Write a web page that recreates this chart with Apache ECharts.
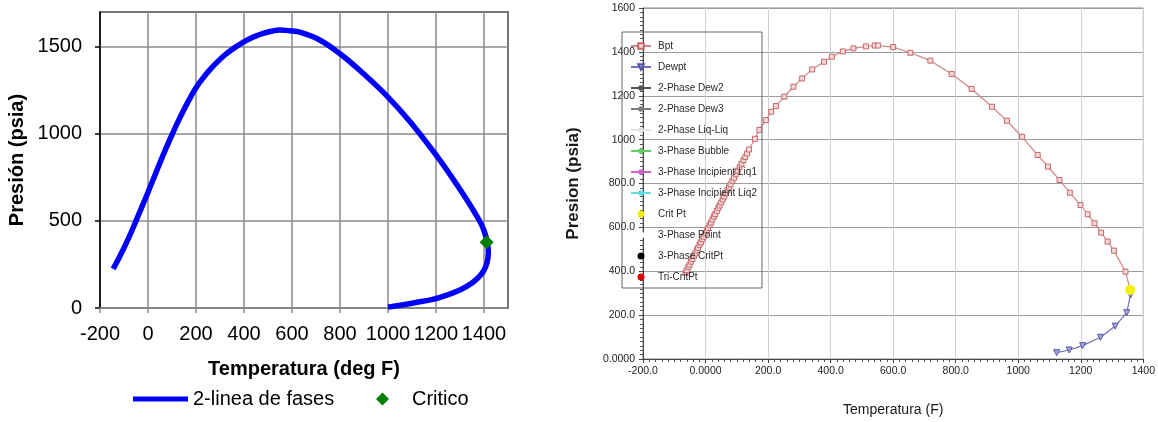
<!DOCTYPE html>
<html>
<head>
<meta charset="utf-8">
<script src="https://cdn.jsdelivr.net/npm/echarts@6/dist/echarts.min.js"></script>
<style>
  html, body { margin: 0; padding: 0; background: #ffffff; }
  #chart { width: 1158px; height: 422px; }
</style>
</head>
<body>
<div id="chart"></div>
<script>
// ---- Left panel: phase envelope as one continuous line ----
const envT = [-145, -120, -95, -70, -50, -25, 0, 25, 50, 75, 100, 125, 150, 175, 200, 230, 260, 290, 320, 350, 380, 410, 440, 480, 520, 550, 590, 633, 717, 800, 897, 994, 1092, 1200, 1286, 1356, 1400, 1418, 1397, 1328, 1217, 1106, 1000];
const envP = [225, 290, 360, 435, 500, 582, 665, 750, 835, 917, 995, 1070, 1140, 1205, 1265, 1322, 1372, 1415, 1453, 1485, 1512, 1537, 1557, 1577, 1591, 1596, 1592, 1584, 1538, 1460, 1347, 1220, 1070, 879, 710, 560, 445, 320, 210, 124, 61, 29, 5];
const critLeft = [1411, 378];

// ---- Right panel: simulator output ----
const bptT = [-64, -60, -55, -51, -46, -42, -37, -33, -28, -24, -19, -15, -10, -6, -1, 4, 8, 13, 17, 22, 27, 31, 36, 41, 45, 50, 55, 60, 65, 70, 75, 80, 86, 91, 97, 103, 109, 115, 121, 127, 133, 139, 158, 172, 193, 210, 225, 252, 281, 309, 341, 379, 404, 439, 473, 513, 541, 552, 600, 655, 719, 787, 851, 916, 964, 1012, 1062, 1095, 1132, 1165, 1199, 1222, 1244, 1265, 1286, 1306, 1343, 1358];
const bptP = [393, 404, 419, 430, 444, 456, 470, 481, 496, 507, 521, 532, 546, 558, 572, 586, 597, 611, 622, 636, 650, 661, 675, 689, 700, 714, 727, 741, 755, 769, 782, 796, 812, 826, 842, 858, 874, 890, 906, 921, 937, 955, 1004, 1044, 1089, 1127, 1153, 1196, 1241, 1279, 1320, 1355, 1378, 1402, 1416, 1425, 1429, 1429, 1422, 1396, 1360, 1299, 1231, 1150, 1086, 1013, 930, 877, 816, 758, 702, 660, 619, 576, 535, 494, 398, 315];
const dewT = [1359, 1347, 1310, 1263, 1206, 1163, 1123];
const dewP = [292, 211, 150, 99, 61, 41, 29];
const critRight = [1358, 315];

const rightXLabels = ['-200.0', '0.0000', '200.0', '400.0', '600.0', '800.0', '1000', '1200', '1400'];
const rightYLabels = ['0.0000', '200.0', '400.0', '600.0', '800.0', '1000', '1200', '1400', '1600'];

const emptyLines = [
  ['2-Phase Dew2', '#555555'],
  ['2-Phase Dew3', '#7a7a7a'],
  ['2-Phase Liq-Liq', '#e4e4e4'],
  ['3-Phase Bubble', '#66cc66'],
  ['3-Phase Incipient Liq1', '#cc66cc'],
  ['3-Phase Incipient Liq2', '#66dddd']
];
const rightNames = ['Bpt', 'Dewpt', '2-Phase Dew2', '2-Phase Dew3', '2-Phase Liq-Liq', '3-Phase Bubble',
  '3-Phase Incipient Liq1', '3-Phase Incipient Liq2', 'Crit Pt', '3-Phase Point', '3-Phase CritPt', 'Tri-CritPt'];

const SANS = "'Liberation Sans', Arial, sans-serif";

const pairs = (xs, ys) => xs.map((x, i) => [x, ys[i]]);

const chart = echarts.init(document.getElementById('chart'), null, { renderer: 'canvas' });

const series = [
  {
    name: '2-linea de fases', type: 'line', xAxisIndex: 0, yAxisIndex: 0,
    data: pairs(envT, envP), smooth: 0.4, symbol: 'none', showSymbol: false,
    lineStyle: { color: '#0000ff', width: 5.5 }, itemStyle: { color: '#0000ff' }, z: 3
  },
  {
    name: 'Critico', type: 'scatter', xAxisIndex: 0, yAxisIndex: 0,
    data: [critLeft], symbol: 'diamond', symbolSize: 14,
    itemStyle: { color: '#008000', opacity: 1 }, z: 4
  },
  {
    name: 'Bpt', type: 'line', xAxisIndex: 1, yAxisIndex: 1,
    data: pairs(bptT, bptP), smooth: false, symbol: 'rect', symbolSize: 5, showSymbol: true,
    lineStyle: { color: '#cf8585', width: 1.2 },
    itemStyle: { color: '#f6d8d8', borderColor: '#c46a6a', borderWidth: 1 }, z: 3
  },
  {
    name: 'Dewpt', type: 'line', xAxisIndex: 1, yAxisIndex: 1,
    data: pairs(dewT, dewP), symbol: 'triangle', symbolRotate: 180, symbolSize: 6, showSymbol: true,
    lineStyle: { color: '#7070b8', width: 1.2 },
    itemStyle: { color: '#a4a4de', borderColor: '#5656a8', borderWidth: 1 }, z: 3
  }
];
emptyLines.forEach(([name, color]) => {
  series.push({
    name, type: 'line', xAxisIndex: 1, yAxisIndex: 1, data: [],
    symbol: 'circle', symbolSize: 4, lineStyle: { color, width: 1 }, itemStyle: { color }
  });
});
series.push(
  { name: 'Crit Pt', type: 'scatter', xAxisIndex: 1, yAxisIndex: 1, data: [critRight],
    symbol: 'circle', symbolSize: 10, itemStyle: { color: '#f2f200', opacity: 1 }, z: 5 },
  { name: '3-Phase Point', type: 'scatter', xAxisIndex: 1, yAxisIndex: 1, data: [],
    symbol: 'circle', itemStyle: { color: '#ffffff', opacity: 1 } },
  { name: '3-Phase CritPt', type: 'scatter', xAxisIndex: 1, yAxisIndex: 1, data: [],
    symbol: 'circle', itemStyle: { color: '#000000', opacity: 1 } },
  { name: 'Tri-CritPt', type: 'scatter', xAxisIndex: 1, yAxisIndex: 1, data: [],
    symbol: 'circle', itemStyle: { color: '#dd0000', opacity: 1 } }
);

chart.setOption({
  animation: false,
  backgroundColor: '#ffffff',
  grid: [
    { left: 100, top: 12, width: 408, height: 296, show: true, borderColor: '#000000', borderWidth: 1.5, containLabel: false },
    { left: 643, top: 8, width: 504, height: 351, show: true, borderColor: '#8a8a8a', borderWidth: 1, containLabel: false }
  ],
  xAxis: [
    {
      gridIndex: 0, type: 'value', min: -200, max: 1500, interval: 200,
      name: 'Temperatura (deg F)', nameLocation: 'middle', nameGap: 51,
      nameTextStyle: { fontFamily: SANS, fontSize: 20, fontWeight: 'bold', color: '#000' },
      axisLine: { show: true, onZero: false, lineStyle: { color: '#8a8a8a', width: 1.5 } },
      axisTick: { show: true, inside: false, length: 5, lineStyle: { color: '#8a8a8a', width: 1.5 } },
      axisLabel: { fontFamily: SANS, fontSize: 20, color: '#000', margin: 16, showMaxLabel: false, formatter: v => String(v) },
      splitLine: { show: true, lineStyle: { color: '#8a8a8a', width: 1.5 } }
    },
    {
      gridIndex: 1, type: 'value', min: -200, max: 1400, interval: 200,
      name: 'Temperatura (F)', nameLocation: 'middle', nameGap: 44,
      nameTextStyle: { fontFamily: SANS, fontSize: 14, color: '#1a1a1a' },
      axisLine: { show: true, onZero: false, lineStyle: { color: '#444', width: 1 } },
      axisTick: { show: true, length: 4, lineStyle: { color: '#444' } },
      minorTick: { show: true, splitNumber: 10, length: 3, lineStyle: { color: '#555' } },
      axisLabel: {
        fontFamily: SANS, fontSize: 10.5, color: '#222', margin: 7,
        formatter: v => rightXLabels[Math.round((v + 200) / 200)] || ''
      },
      splitLine: { show: true, lineStyle: { color: '#d0d0d0', width: 1 } }
    }
  ],
  yAxis: [
    {
      gridIndex: 0, type: 'value', min: 0, max: 1700, interval: 500,
      name: 'Presión (psia)', nameLocation: 'middle', nameGap: 73,
      nameTextStyle: { fontFamily: SANS, fontSize: 20, fontWeight: 'bold', color: '#000' },
      axisLine: { show: true, onZero: false, lineStyle: { color: '#000', width: 1.5 } },
      axisTick: { show: true, length: 5, lineStyle: { color: '#000', width: 1.5 } },
      axisLabel: { fontFamily: SANS, fontSize: 20, color: '#000', margin: 18, showMaxLabel: false, formatter: v => String(v) },
      splitLine: { show: true, lineStyle: { color: '#8a8a8a', width: 1.5 } }
    },
    {
      gridIndex: 1, type: 'value', min: 0, max: 1600, interval: 200,
      name: 'Presion (psia)', nameLocation: 'middle', nameGap: 61,
      nameTextStyle: { fontFamily: SANS, fontSize: 17, fontWeight: 'bold', color: '#1a1a1a' },
      axisLine: { show: true, onZero: false, lineStyle: { color: '#444', width: 1 } },
      axisTick: { show: true, length: 4, lineStyle: { color: '#444' } },
      minorTick: { show: true, splitNumber: 10, length: 3, lineStyle: { color: '#555' } },
      axisLabel: {
        fontFamily: SANS, fontSize: 10.5, color: '#222', margin: 8,
        formatter: v => rightYLabels[Math.round(v / 200)] || ''
      },
      splitLine: { show: true, lineStyle: { color: '#9a9a9a', width: 1 } }
    }
  ],
  legend: [
    {
      data: ['2-linea de fases'], left: 133, top: 389, padding: 0,
      icon: 'rect', itemWidth: 55, itemHeight: 5,
      textStyle: { fontFamily: SANS, fontSize: 20, color: '#000' }
    },
    {
      data: ['Critico'], left: 376, top: 389, padding: 0,
      itemWidth: 13, itemHeight: 13,
      textStyle: { fontFamily: SANS, fontSize: 20, color: '#000', padding: [0, 0, 0, 18] }
    },
    {
      data: rightNames, orient: 'vertical', left: 622, top: 32,
      padding: [9, 5, 6, 8], itemWidth: 20, itemHeight: 7, itemGap: 11,
      borderColor: '#666', borderWidth: 1, backgroundColor: 'transparent',
      textStyle: { fontFamily: SANS, fontSize: 10, color: '#2a2a2a', padding: [0, 0, 0, 2] }
    }
  ],
  series
});
</script>
</body>
</html>
